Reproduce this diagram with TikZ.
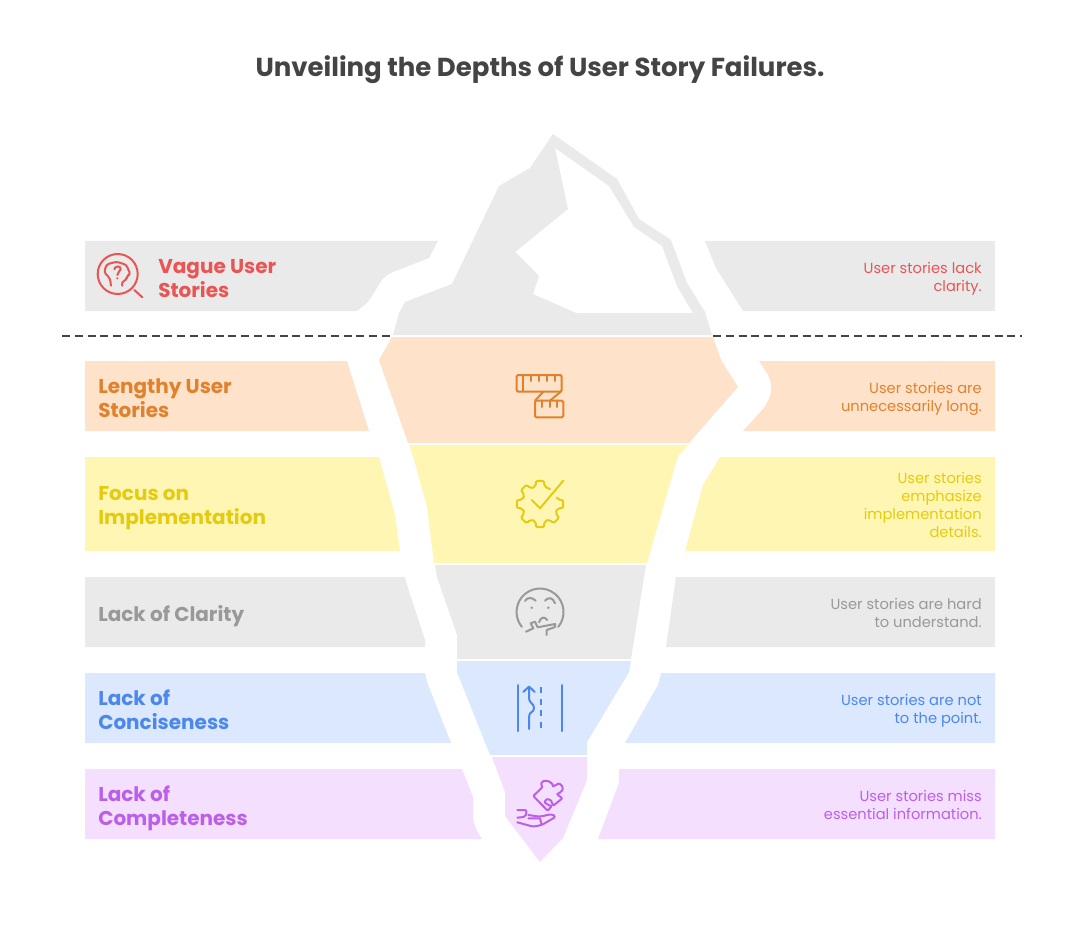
\documentclass[tikz,border=0pt]{standalone}
\usepackage{fontspec}
\setmainfont{Poppins}
\usepackage{xcolor}
\definecolor{titlec}{HTML}{444444}
\definecolor{greyb}{HTML}{EAEAEA}
\definecolor{oranb}{HTML}{FEE2CA}
\definecolor{yellb}{HTML}{FFF6B3}
\definecolor{blueb}{HTML}{DBE8FE}
\definecolor{purpb}{HTML}{F4DFFF}
\definecolor{redt}{HTML}{E95454}
\definecolor{orant}{HTML}{E0822D}
\definecolor{yellt}{HTML}{E5CB10}
\definecolor{greyt}{HTML}{999999}
\definecolor{bluet}{HTML}{4C88EC}
\definecolor{purpt}{HTML}{BC5FE8}
\tikzset{
  head/.style={font=\fontsize{19.5}{23}\bfseries\selectfont, text=titlec, inner sep=0pt},
  lab/.style={font=\fontsize{15}{18}\bfseries\selectfont, anchor=west, align=left, inner sep=0pt},
  desc/.style={font=\fontsize{11}{13.5}\selectfont, anchor=east, align=right, inner sep=0pt},
  icon/.style={line width=1.5pt, line cap=round, line join=round}
}

\begin{document}
\begin{tikzpicture}[x=0.75pt,y=-0.75pt]
  \useasboundingbox[fill=white] (0,0) rectangle (1080,948);

  \node[head] (title) at (540,70) {Unveiling the Depths of User Story Failures.};

  % berg above the water
  \fill[greyb, even odd rule] (553,134) -- (617,179) -- (639,219) -- (671,240) -- (687,283) -- (705,312) -- (712,335)
    -- (393,335) -- (399,313) -- (405,302) -- (452,284) -- (499,186) -- (530,168) -- cycle
    (555,148) -- (609,186) -- (634,227) -- (662,246) -- (677,286) -- (693,313) -- (576,313) -- (533,294)
    -- (539,276) -- (515,252) -- (568,209) -- cycle;
  \fill[greyb] (85,241) -- (438,241) -- (429,258) -- (393,272) .. controls (386,275) and (383,278) .. (380,283)
    -- (368,302) -- (357,311) -- (85,311) -- cycle;
  \fill[greyb] (705,241) -- (716,268) -- (743,311) -- (995,311) -- (995,241) -- cycle;

  % water line
  \coordinate (wl1) at (62,336); \coordinate (wl2) at (393,336);
  \coordinate (wr1) at (713,336); \coordinate (wr2) at (1022,336);
  \draw[titlec, line width=1pt, dash pattern=on 6pt off 3.6pt] (wl1) -- (wl2);
  \draw[titlec, line width=1pt, dash pattern=on 6pt off 3.6pt] (wr1) -- (wr2);

  % lengthy
  \fill[oranb] (392,337) -- (713,337) -- (721,360) -- (738,387) -- (689,443) -- (408,443) -- (379,360) -- cycle;
  \fill[oranb] (85,361) -- (347,361) -- (369,431) -- (85,431) -- cycle;
  \fill[oranb] (759,361) -- (767,373) .. controls (773,383) and (773,396) .. (763,409) -- (743,431) -- (995,431) -- (995,361) -- cycle;

  % implementation
  \fill[yellb] (409,445) -- (688,445) -- (678,456) -- (647,563) -- (434,563) -- (427,507) -- (413,456) -- cycle;
  \fill[yellb] (85,457) -- (379,457) -- (395,515) -- (400,551) -- (85,551) -- cycle;
  \fill[yellb] (720,457) -- (703,485) -- (685,551) -- (995,551) -- (995,457) -- cycle;

  % clarity
  \fill[greyb] (435,565) -- (646,565) -- (631,659) -- (457,659) -- (457,635) -- (437,577) -- cycle;
  \fill[greyb] (85,577) -- (405,577) -- (406,582) -- (408,588) -- (425,640) -- (425,647) -- (85,647) -- cycle;
  \fill[greyb] (676,577) -- (666,647) -- (995,647) -- (995,577) -- cycle;

  % conciseness
  \fill[blueb] (457,661) -- (631,661) -- (629,672) -- (587,742) -- (587,755) -- (490,755) -- (457,672) -- cycle;
  \fill[blueb] (85,673) -- (425,673) -- (427,682) -- (451,743) -- (85,743) -- cycle;
  \fill[blueb] (661,673) -- (658,685) -- (625,743) -- (995,743) -- (995,673) -- cycle;

  % completeness
  \fill[purpb] (492,757) -- (587,757) -- (587,780) -- (563,838) -- (540,862) -- (505,816) -- (505,792) -- cycle;
  \fill[purpb] (85,769) -- (462,769) -- (473,797) -- (473,817) .. controls (474,826) and (477,832) .. (482,839) -- (85,839) -- cycle;
  \fill[purpb] (619,769) -- (619,783) -- (598,839) -- (995,839) -- (995,769) -- cycle;

  % left labels
  \node[lab, text=redt] (lab1) at (158,278.5) {Vague User\\Stories};
  \node[lab, text=orant] (lab2) at (98,398.5) {Lengthy User\\Stories};
  \node[lab, text=yellt] (lab3) at (98,508.5) {Focus on\\Implementation};
  \node[lab, text=greyt] (lab4) at (98,616) {Lack of Clarity};
  \node[lab, text=bluet] (lab5) at (98,709.5) {Lack of\\Conciseness};
  \node[lab, text=purpt] (lab6) at (98,808.5) {Lack of\\Completeness};

  % right texts
  \node[desc, text=redt] (desc1) at (982,279) {User stories lack\\clarity.};
  \node[desc, text=orant] (desc2) at (982,398.5) {User stories are\\unnecessarily long.};
  \node[desc, text=yellt] (desc3) at (982,505) {User stories\\emphasize\\implementation\\details.};
  \node[desc, text=greyt] (desc4) at (982,613) {User stories are hard\\to understand.};
  \node[desc, text=bluet] (desc5) at (982,711) {User stories are not\\to the point.};
  \node[desc, text=purpt] (desc6) at (982,805) {User stories miss\\essential information.};

  % head in the lens
  \begin{scope}[icon, draw=redt]
    \draw (117.7,274) circle (20);
    \draw (134.3,290) -- (142.3,297.3);
    \draw[rounded corners=2pt] (111,285.7) -- (110,278.3) -- (104,272.3) -- (106.7,264.3) -- (116.7,261.7) -- (126.7,265)
      -- (128.3,270) -- (130.7,274.3) -- (126.7,275.7) -- (126.7,280) -- (121.7,281.7) -- (122.3,285.7);
    \draw (114.3,269.3) .. controls (115,265.5) and (121,265.5) .. (120.7,269.3) .. controls (120.5,271.5) and (117.3,271.5) .. (117.3,275);
    \fill[redt] (117.3,278.3) circle (1.2);
  \end{scope}

  % tape
  \begin{scope}[icon, draw=orant]
    \draw[rounded corners=1pt] (516.7,375) rectangle (561.7,391.7);
    \draw (523,375) -- (523,391.7);
    \foreach \tx in {530.7,539,547.3,555} \draw (\tx,375) -- (\tx,381);
    \draw[rounded corners=1pt] (535,400.7) rectangle (563.3,417.3);
    \foreach \tx in {541.7,550,557.3} \draw (\tx,400.7) -- (\tx,407);
    \draw (543.3,391.7) -- (535,400.7);
    \draw (560.7,391.7) -- (550,400.7);
  \end{scope}

  % gear
  \begin{scope}[icon, draw=yellt, shift={(540,504)}]
    \draw[rounded corners=1.5pt] (-19:18) \foreach \a in {0,45,...,270} { -- ({\a-14}:18) -- ({\a-10}:23.5) -- ({\a+10}:23.5) -- ({\a+14}:18) } -- (304:18);
    \draw (-8.3,-4) -- (0,4.3) -- (23.3,-23.3);
  \end{scope}

  % thinking face
  \begin{scope}[icon, draw=greyt]
    \draw (558.3,626.8) arc[start angle=39, end angle=-219, radius=23.5];
    \draw (525,601) .. controls (527,597) and (532,597) .. (535.7,600.7);
    \draw (545,600.7) .. controls (548,597) and (553,597) .. (555,603.3);
    \fill[greyt] (531.7,607.7) circle (1.4);
    \fill[greyt] (548.3,607.7) circle (1.4);
    \draw (539,622.3) .. controls (541,617) and (544,616) .. (547.3,620);
    \draw (526,631.7) -- (533.3,628.3) -- (530.7,623.3) -- (535,621.7) -- (537.7,627.3) -- (555,624) -- (555,627) -- (546.7,630) -- (546.7,635);
  \end{scope}

  % road
  \begin{scope}[icon, draw=bluet]
    \draw (517.7,685) -- (517.7,731);
    \draw (562,685) -- (562,731);
    \draw[line cap=butt, dash pattern=on 4.5pt off 4.3pt] (541,687) -- (541,729);
    \draw (529,729) -- (529,717) .. controls (529,711) and (534,713) .. (534,708) .. controls (534,703) and (529,704) .. (529,697) -- (529,687);
    \draw (523.3,692) -- (529,686.5) -- (534.7,692);
  \end{scope}

  % puzzle on a hand
  \begin{scope}[icon, draw=purpt]
    \draw[rounded corners=0.6pt] (533.3,796) -- (542.3,787.3) -- (541,783.3) -- (544,780.7) -- (549,781.3) -- (552.7,784.3) -- (552.7,786.7)
      -- (559,783.3) -- (562.3,786) -- (562.7,790) -- (559,793.3) -- (556.7,794) -- (562.3,798.3) -- (553.3,805.7) -- (550.7,800)
      -- (546.7,799) -- (544.3,802.3) -- (548.3,805) -- (551.7,806) -- (547.7,810.7) -- cycle;
    \draw[rounded corners=1.5pt] (517.3,810) -- (526.7,810) -- (525.7,816.7) -- (517.3,817.7);
    \draw[rounded corners=2pt] (517.3,822.3) -- (533.3,826.7) -- (541.7,825) -- (556,816.7) -- (551.7,814) -- (540,816.7) -- (528.3,815);
    \draw (528.3,818.3) -- (540,818.3) -- (541.7,825);
  \end{scope}
\end{tikzpicture}
\end{document}
